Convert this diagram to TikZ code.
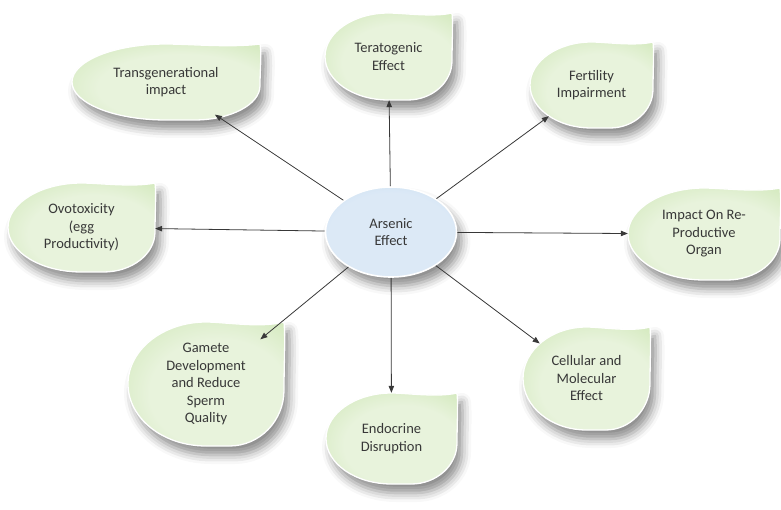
\documentclass[tikz,border=0pt]{standalone}
\usepackage{fontspec}
\setmainfont{Carlito}
\usetikzlibrary{arrows.meta,shapes.geometric,shadows.blur}

\definecolor{leafedge}{HTML}{BBDB98}
\definecolor{leafmid}{HTML}{D3E9BD}
\definecolor{leafcore}{HTML}{E8F3DC}
\definecolor{hubedge}{HTML}{A8CAEA}
\definecolor{hubmid}{HTML}{C6DDF2}
\definecolor{hubcore}{HTML}{DCE9F6}
\definecolor{inkgrey}{HTML}{383838}

% soft glassy fills, brightest slightly below-right of the middle
\pgfdeclareradialshading{leafshade}{\pgfpoint{6bp}{-6bp}}{%
  color(0bp)=(leafcore); color(22bp)=(leafcore); color(36bp)=(leafmid);
  color(47bp)=(leafedge); color(60bp)=(leafedge)}
\pgfdeclareradialshading{hubshade}{\pgfpoint{0bp}{-4bp}}{%
  color(0bp)=(hubcore); color(24bp)=(hubcore); color(38bp)=(hubmid);
  color(48bp)=(hubedge); color(60bp)=(hubedge)}

\tikzset{
  softshadow/.style={blur shadow={shadow xshift=5pt, shadow yshift=-9pt,
      shadow blur radius=9pt, shadow opacity=45}},
  leaffill/.style={softshadow, shading=leafshade, draw=white, line width=1.3pt},
  leaftext/.style={ellipse, inner sep=0pt, align=center, text=inkgrey,
      font=\fontsize{14.5}{17.5}\selectfont},
  hubnode/.style={ellipse, softshadow, shading=hubshade,
      draw=white, line width=1.6pt, minimum width=131pt, minimum height=90pt,
      align=center, text=inkgrey, font=\fontsize{14.5}{17.5}\selectfont},
  link/.style={draw=inkgrey, line width=0.8pt, -{Triangle[length=7pt,width=5.5pt]}}
}

% A leaf: rounded box with a sharp top-right tip, plus a named text node
% #1 name, #2 left, #3 top, #4 right, #5 bottom, #6 text
\newcommand\leaf[6]{%
  \pgfmathsetmacro\lw{#4-#2}%
  \pgfmathsetmacro\lh{#5-#3}%
  \path[leaffill] (#4,#3)
     .. controls ({#4-0.15*\lw},{#3+0.05*\lh}) and ({#2+0.62*\lw},#3) .. ({#2+0.5*\lw},#3)
     .. controls ({#2+0.5*\lw*0.448},#3) and (#2,{#3+0.5*\lh*0.448}) .. (#2,{#3+0.5*\lh})
     .. controls (#2,{#5-0.5*\lh*0.448}) and ({#2+0.5*\lw*0.448},#5) .. ({#2+0.5*\lw},#5)
     -- ({#4-0.35*\lw},#5)
     .. controls ({#4-0.35*\lw*0.448},#5) and (#4,{#5-0.45*\lh*0.448}) .. (#4,{#5-0.45*\lh})
     .. controls (#4,{#5-0.7*\lh}) and ({#4+0.01*\lw},{#3+0.15*\lh}) .. cycle;
  \node[leaftext, minimum width=\lw pt, minimum height=\lh pt] (#1)
     at ({(#2+#4)/2},{(#3+#5)/2}) {#6};
}

\begin{document}
\begin{tikzpicture}[x=1pt,y=-1pt]
  \useasboundingbox (0,0) rectangle (781,510);

  % outer leaves
  \leaf{trans}{72}{44}{260}{120}{Transgenerational\\impact}
  \leaf{terat}{325}{13}{452}{100}{Teratogenic\\Effect}
  \leaf{fert}{530}{42}{653}{128}{Fertility\\Impairment}
  \leaf{organ}{628}{188}{780}{280}{Impact On Re-\\Productive\\Organ}
  \leaf{ovo}{8}{183}{155}{272}{Ovotoxicity\\(egg\\Productivity)}
  \leaf{gamete}{128}{322}{284}{446}{Gamete\\Development\\and Reduce\\Sperm\\Quality}
  \leaf{endo}{326}{393}{457}{484}{Endocrine\\Disruption}
  \leaf{cell}{523}{327}{650}{430}{Cellular and\\Molecular\\Effect}

  % central hub
  \node[hubnode] (hub) at (391,232) {Arsenic\\Effect};

  % connectors
  \foreach \t in {trans,terat,fert,organ,ovo,gamete,endo,cell}
    \draw[link] (hub) -- (\t);
\end{tikzpicture}
\end{document}
